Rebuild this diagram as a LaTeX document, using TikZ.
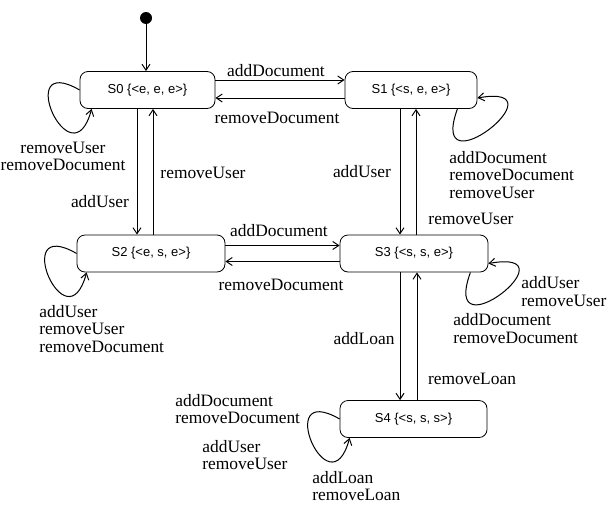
\documentclass[tikz,border=0pt]{standalone}
\usepackage{fontspec}
\setmainfont{Liberation Serif}
\setsansfont{Liberation Sans}
\usetikzlibrary{arrows.meta}

\begin{document}
\begin{tikzpicture}[x=0.5pt,y=0.5pt,
		state/.style={draw,rounded corners=4pt,minimum height=18.5pt,inner sep=0pt,
			font=\sffamily\fontsize{6.5}{7}\selectfont},
		lbl/.style={inner sep=0pt,font=\fontsize{8.7}{8.8}\selectfont},
		trans/.style={-{Straight Barb[length=3pt,width=4pt]},line width=0.5pt},
		loopl/.style={out=150,in=-105,distance=39pt},
		loopr/.style={out=-110,in=10,distance=45pt}]
	\useasboundingbox (0,0) rectangle (608,505);
	% states
	\node [circle,fill,inner sep=0pt,minimum size=6pt] (init) at (146,487) {};
	\node [state,minimum width=67.5pt] (s0) at (147.5,415) {S0 \{<e, e, e>\}};
	\node [state,minimum width=66pt] (s1) at (411,415) {S1 \{<s, e, e>\}};
	\node [state,minimum width=74pt] (s2) at (151,251.5) {S2 \{<e, s, e>\}};
	\node [state,minimum width=74pt] (s3) at (414,251.5) {S3 \{<s, s, e>\}};
	\node [state,minimum width=73.5pt] (s4) at (413.5,86) {S4 \{<s, s, s>\}};
	% transitions
	\draw [trans] (init) -- (init |- s0.north);
	\draw [trans] ([yshift=5pt]s0.east) -- ([yshift=5pt]s1.west);
	\draw [trans] ([yshift=-4pt]s1.west) -- ([yshift=-4pt]s0.east);
	\draw [trans] ([xshift=-5.25pt]s0.south) -- ([xshift=-7pt]s2.north);
	\draw [trans] ([xshift=1pt]s2.north) -- ([xshift=2.75pt]s0.south);
	\draw [trans] ([xshift=-5.5pt]s1.south) -- ([xshift=-7pt]s3.north);
	\draw [trans] ([xshift=1pt]s3.north) -- ([xshift=2.5pt]s1.south);
	\draw [trans] ([yshift=4pt]s2.east) -- ([yshift=4pt]s3.west);
	\draw [trans] ([yshift=-4pt]s3.west) -- ([yshift=-4pt]s2.east);
	\draw [trans] ([xshift=-7pt]s3.south) -- ([xshift=-6.75pt]s4.north);
	\draw [trans] ([xshift=1.75pt]s4.north) -- ([xshift=1.5pt]s3.south);
	% self loops
	\draw [trans] (s0.west) to [loopl] ([xshift=6pt]s0.south west);
	\draw [trans] ([xshift=-10pt]s1.south east) to [loopr] ([yshift=-4pt]s1.east);
	\draw [trans] (s2.west) to [loopl] ([xshift=5pt]s2.south west);
	\draw [trans] ([xshift=-9pt]s3.south east) to [loopr] ([yshift=-5pt]s3.east);
	\draw [trans] (s4.west) to [loopl] ([xshift=5pt]s4.south west);
	% labels
	\node [lbl] (l01) at (276,434) {addDocument};
	\node [lbl] (l10) at (277,387) {removeDocument};
	\node [lbl,align=center] (l00) at (63,348.5) {removeUser\\removeDocument};
	\node [lbl] (l20) at (203,332) {removeUser};
	\node [lbl] (l02) at (100,303) {addUser};
	\node [lbl] (l23) at (279,274) {addDocument};
	\node [lbl] (l32) at (281,220) {removeDocument};
	\node [lbl] (l13) at (362,333) {addUser};
	\node [lbl] (l31) at (471,286) {removeUser};
	\node [lbl,align=left,anchor=west] (l11) at (449,330) {addDocument\\removeDocument\\removeUser};
	\node [lbl,align=left,anchor=west] (l22) at (39,176) {addUser\\removeUser\\removeDocument};
	\node [lbl,align=left,anchor=west] (l33a) at (521,213.5) {addUser\\removeUser};
	\node [lbl,align=left,anchor=west] (l33b) at (453,176.5) {addDocument\\removeDocument};
	\node [lbl] (l34) at (364,166) {addLoan};
	\node [lbl] (l43) at (472,126) {removeLoan};
	\node [lbl,align=left,anchor=west] (l44a) at (175,96) {addDocument\\removeDocument};
	\node [lbl,align=left,anchor=west] (l44b) at (202,50) {addUser\\removeUser};
	\node [lbl,align=left,anchor=west] (l44) at (312,19) {addLoan\\removeLoan};
\end{tikzpicture}
\end{document}
